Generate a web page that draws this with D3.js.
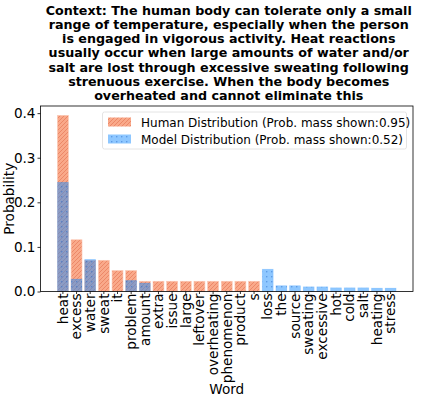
<!DOCTYPE html>
<html>
<head>
<meta charset="utf-8">
<script src="https://cdn.jsdelivr.net/npm/d3@7"></script>
<style>
  html, body { margin: 0; padding: 0; background: #fff; }
  svg { display: block; font-family: "DejaVu Sans", sans-serif; }
</style>
</head>
<body>
<div id="chart"></div>
<script>
// ---- Data ------------------------------------------------------------------
const words = ['heat', 'excess', 'water', 'sweat', 'it', 'problem', 'amount', 'extra',
  'issue', 'large', 'leftover', 'overheating', 'phenomenon', 'product', 's', 'loss',
  'the', 'source', 'sweating', 'excessive', 'hot', 'cold', 'salt', 'heating', 'stress'];
const humanProb = [0.395, 0.116, 0.070, 0.070, 0.047, 0.047, 0.023, 0.023,
  0.023, 0.023, 0.023, 0.023, 0.023, 0.023, 0.023, 0,
  0, 0, 0, 0, 0, 0, 0, 0, 0];
const modelProb = [0.245, 0.028, 0.072, 0, 0, 0.025, 0.019, 0,
  0, 0, 0, 0, 0, 0, 0, 0.050,
  0.013, 0.013, 0.0105, 0.0105, 0.0083, 0.0083, 0.0083, 0.0076, 0.0076];
const yTicks = [0, 0.1, 0.2, 0.3, 0.4];
const titleLines = [
  'Context: The human body can tolerate only a small',
  'range of temperature, especially when the person',
  'is engaged in vigorous activity. Heat reactions',
  'usually occur when large amounts of water and/or',
  'salt are lost through excessive sweating following',
  'strenuous exercise. When the body becomes',
  'overheated and cannot eliminate this'
];
const legendLabels = [
  'Human Distribution (Prob. mass shown:0.95)',
  'Model Distribution (Prob. mass shown:0.52)'
];

const W = 425, H = 399;
const M = { top: 106, right: 12, bottom: 107.5, left: 40.5 };
const FS = 13.6;

const svg = d3.select('#chart').append('svg')
  .attr('width', W).attr('height', H);

// ---- Hatch patterns --------------------------------------------------------
const defs = svg.append('defs');
const hp = defs.append('pattern').attr('id', 'hatchHuman')
  .attr('patternUnits', 'userSpaceOnUse').attr('width', 4).attr('height', 4);
hp.append('rect').attr('width', 4).attr('height', 4).attr('fill', '#f9a98a');
hp.append('path').attr('d', 'M-1,1 l2,-2 M0,4 l4,-4 M3,5 l2,-2')
  .attr('stroke', '#e8805f').attr('stroke-width', 0.8);

const mp = defs.append('pattern').attr('id', 'dotModel')
  .attr('patternUnits', 'userSpaceOnUse').attr('width', 5).attr('height', 5);
mp.append('rect').attr('width', 5).attr('height', 5).attr('fill', 'rgba(30,144,255,0.5)');
mp.append('rect').attr('x', 1).attr('y', 1).attr('width', 1.4).attr('height', 1.4)
  .attr('fill', 'rgba(30,100,200,0.45)');

// ---- Scales ----------------------------------------------------------------
const x = d3.scaleBand().domain(words)
  .range([M.left, W - M.right]).paddingInner(0.2).paddingOuter(1.24);
const y = d3.scaleLinear().domain([0, 0.416]).range([H - M.bottom, M.top]);

// ---- Bars ------------------------------------------------------------------
svg.append('g').selectAll('rect')
  .data(words.map((w, i) => ({ w, v: humanProb[i] })).filter(d => d.v > 0))
  .join('rect')
  .attr('x', d => x(d.w)).attr('width', x.bandwidth())
  .attr('y', d => y(d.v)).attr('height', d => y(0) - y(d.v))
  .attr('fill', 'url(#hatchHuman)')
  .attr('stroke', '#fbc9b5').attr('stroke-width', 0.6);

svg.append('g').selectAll('rect')
  .data(words.map((w, i) => ({ w, v: modelProb[i] })).filter(d => d.v > 0))
  .join('rect')
  .attr('x', d => x(d.w)).attr('width', x.bandwidth())
  .attr('y', d => y(d.v)).attr('height', d => y(0) - y(d.v))
  .attr('fill', 'url(#dotModel)')
  .attr('stroke', 'rgba(30,144,255,0.25)').attr('stroke-width', 0.6);

// ---- Axes ------------------------------------------------------------------
svg.append('g')
  .attr('transform', `translate(${M.left},0)`)
  .call(d3.axisLeft(y).tickValues(yTicks).tickFormat(d3.format('.1f')).tickSize(3).tickPadding(2))
  .call(g => g.select('.domain').remove())
  .call(g => g.selectAll('.tick line').attr('stroke', '#000').attr('stroke-width', 0.8))
  .call(g => g.selectAll('text').attr('font-size', FS).attr('font-family', 'DejaVu Sans').attr('fill', '#000'));

svg.append('g')
  .attr('transform', `translate(0,${H - M.bottom})`)
  .call(d3.axisBottom(x).tickSize(2.5))
  .call(g => g.select('.domain').remove())
  .call(g => g.selectAll('.tick line').attr('stroke', '#000').attr('stroke-width', 0.8))
  .call(g => g.selectAll('text')
    .attr('font-size', FS).attr('font-family', 'DejaVu Sans').attr('fill', '#000')
    .attr('text-anchor', 'end')
    .attr('transform', 'rotate(-90)')
    .attr('x', -2).attr('y', 0).attr('dy', '0.35em'));

// Frame
svg.append('rect')
  .attr('x', M.left).attr('y', M.top)
  .attr('width', W - M.right - M.left).attr('height', H - M.bottom - M.top)
  .attr('fill', 'none').attr('stroke', '#000').attr('stroke-width', 0.8);

// Axis titles
svg.append('text')
  .attr('transform', `translate(14,${(M.top + H - M.bottom) / 2}) rotate(-90)`)
  .attr('text-anchor', 'middle').attr('font-size', FS).text('Probability');
svg.append('text')
  .attr('x', (M.left + W - M.right) / 2).attr('y', 394)
  .attr('text-anchor', 'middle').attr('font-size', FS).text('Word');

// Title
svg.append('g').selectAll('text').data(titleLines).join('text')
  .attr('x', (M.left + W - M.right) / 2 + 2)
  .attr('y', (d, i) => 14.5 + i * 14.3)
  .attr('text-anchor', 'middle')
  .attr('font-size', 12.7).attr('font-weight', 'bold')
  .text(d => d);

// ---- Legend ----------------------------------------------------------------
const lg = svg.append('g');
lg.append('rect')
  .attr('x', 102.5).attr('y', 112).attr('width', 304).attr('height', 37).attr('rx', 2)
  .attr('fill', 'rgba(255,255,255,0.8)').attr('stroke', '#ddd').attr('stroke-width', 0.8);
const fills = ['url(#hatchHuman)', 'url(#dotModel)'];
legendLabels.forEach((t, i) => {
  lg.append('rect')
    .attr('x', 108).attr('y', 117.5 + i * 17).attr('width', 23).attr('height', 9)
    .attr('fill', fills[i]);
  lg.append('text')
    .attr('x', 141).attr('y', 126.5 + i * 17)
    .attr('font-size', 12).text(t);
});
</script>
</body>
</html>
